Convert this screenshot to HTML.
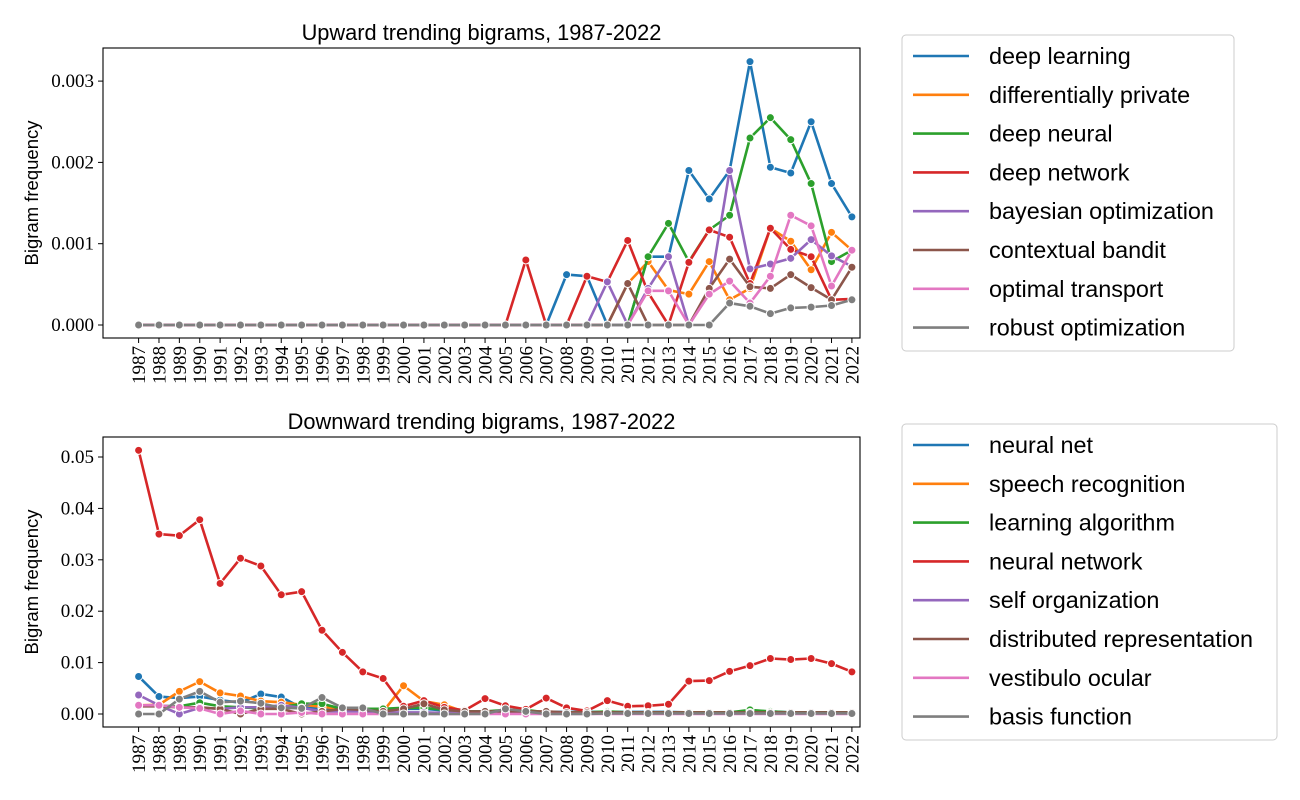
<!DOCTYPE html>
<html><head><meta charset="utf-8">
<style>
body{margin:0;background:#fff;width:1300px;height:800px;overflow:hidden}
svg{display:block}
.tick{font-family:"Liberation Serif",serif;font-size:19px;fill:#000}
.lab{font-family:"Liberation Sans",sans-serif;fill:#000}
</style></head><body>
<svg id="c" width="1300" height="800"></svg>
<script>
const years = []; for (let y=1987;y<=2022;y++) years.push(y);
const upNames = ["deep learning","differentially private","deep neural","deep network","bayesian optimization","contextual bandit","optimal transport","robust optimization"];
const colors = ["#1f77b4","#ff7f0e","#2ca02c","#d62728","#9467bd","#8c564b","#e377c2","#7f7f7f"];
const z19 = new Array(19).fill(0);
const upDeepLearning = [...z19,0,0,0.00062,0.00060,0,0,0.00084,0.00084,0.0019,0.00155,0.0019,0.00324,0.00194,0.00187,0.0025,0.00174,0.00133];
const upDiffPrivate = [...z19,0,0,0,0,0,0.00051,0.00078,0.00043,0.00038,0.00078,0.00031,0.00045,0.00119,0.00103,0.00068,0.00114,0.00092];
const upDeepNeural = [...z19,0,0,0,0,0,0,0.00084,0.00125,0.00078,0.00117,0.00135,0.0023,0.00255,0.00228,0.00174,0.00078,0.00092];
const upDeepNetwork = [...z19,0.0008,0,0,0.0006,0.00053,0.00104,0.0004,0,0.00077,0.00117,0.00108,0.00051,0.00119,0.00093,0.00084,0.00031,0.00032];
const upBayesOpt = [...z19,0,0,0,0,0.00053,0,0.00045,0.00084,0,0.00039,0.0019,0.00069,0.00075,0.00082,0.00105,0.00085,0.00072];
const upBandit = [...z19,0,0,0,0,0,0.00051,0,0,0,0.00045,0.00081,0.00047,0.00045,0.00062,0.00046,0.00031,0.00071];
const upTransport = [...z19,0,0,0,0,0,0,0.00042,0.00042,0,0.00038,0.00054,0.00027,0.0006,0.00135,0.00122,0.00048,0.00092];
const upRobust = [...z19,0,0,0,0,0,0,0,0,0,0,0.00027,0.00023,0.00014,0.00021,0.00022,0.00024,0.00031];
const upSeries = [upDeepLearning,upDiffPrivate,upDeepNeural,upDeepNetwork,upBayesOpt,upBandit,upTransport,upRobust];

const downNames = ["neural net","speech recognition","learning algorithm","neural network","self organization","distributed representation","vestibulo ocular","basis function"];
const dnNeuralNet = [0.0073,0.0034,0.0031,0.0034,0.0027,0.0022,0.0039,0.0033,0.0012,0.0011,0.0010,0.0010,0.0009,0.0010,0.0010,0.0007,0.0005,0.0005,0.0005,0.0005,0.0004,0.0004,0.0004,0.0004,0.0004,0.0004,0.0004,0.0003,0.0003,0.0003,0.0003,0.0005,0.0003,0.0003,0.0003,0.0003];
const dnSpeech = [0.0017,0.0018,0.0044,0.0063,0.0041,0.0035,0.0025,0.0023,0.0018,0.0014,0.0010,0.0008,0.0005,0.0055,0.0025,0.0018,0.0004,0.0003,0.0003,0.0003,0.0003,0.0003,0.0003,0.0003,0.0003,0.0003,0.0003,0.0003,0.0003,0.0003,0.0002,0.0002,0.0002,0.0002,0.0002,0.0002];
const dnLearnAlg = [0.0015,0.0016,0.0015,0.0022,0.0015,0.0013,0.0011,0.0013,0.0020,0.0020,0.0010,0.0010,0.0010,0.0012,0.0012,0.0008,0.0005,0.0005,0.0008,0.0008,0.0003,0.0003,0.0003,0.0005,0.0003,0.0003,0.0003,0.0003,0.0003,0.0003,0.0008,0.0005,0.0003,0.0003,0.0003,0.0003];
const dnNeuralNetwork = [0.0513,0.0350,0.0347,0.0378,0.0254,0.0303,0.0288,0.0232,0.0238,0.0163,0.0120,0.0082,0.0069,0.0015,0.0026,0.0013,0.0007,0.0030,0.0016,0.0009,0.0031,0.0012,0.0006,0.0026,0.0015,0.0016,0.0019,0.0064,0.0065,0.0083,0.0094,0.0108,0.0106,0.0108,0.0098,0.0082];
const dnSelfOrg = [0.0037,0.0017,0.0000,0.0012,0.0010,0.0013,0.0013,0.0017,0.0012,0.0005,0.0005,0.0005,0.0003,0.0003,0.0003,0.0002,0.0002,0.0002,0.0002,0.0002,0.0002,0.0002,0.0002,0.0002,0.0002,0.0002,0.0002,0.0002,0.0002,0.0002,0.0002,0.0002,0.0002,0.0002,0.0002,0.0002];
const dnDistRep = [0.0015,0.0015,0.0013,0.0013,0.0010,0.0000,0.0010,0.0010,0.0000,0.0005,0.0010,0.0008,0.0005,0.0010,0.0020,0.0008,0.0005,0.0005,0.0005,0.0005,0.0005,0.0003,0.0003,0.0003,0.0003,0.0003,0.0003,0.0003,0.0003,0.0003,0.0003,0.0003,0.0003,0.0003,0.0003,0.0003];
const dnVestibulo = [0.0017,0.0017,0.0013,0.0011,0.0000,0.0006,0.0000,0.0000,0.0003,0,0,0,0,0,0,0,0,0,0,0,0,0,0,0,0,0,0,0,0,0,0,0,0,0,0,0];
const dnBasis = [0,0,0.0029,0.0044,0.0023,0.0025,0.0021,0.0012,0.0011,0.0032,0.0012,0.0012,0,0,0,0,0,0,0.0010,0.0005,0,0,0,0.0001,0.0001,0.0001,0.0001,0.0001,0.0001,0.0001,0.0001,0.0001,0.0001,0.0001,0.0001,0.0001];
const downSeries = [dnNeuralNet,dnSpeech,dnLearnAlg,dnNeuralNetwork,dnSelfOrg,dnDistRep,dnVestibulo,dnBasis];

const upTicks = [0,0.001,0.002,0.003], upTickLabels = ["0.000","0.001","0.002","0.003"];
const dnTicks = [0,0.01,0.02,0.03,0.04,0.05], dnTickLabels = ["0.00","0.01","0.02","0.03","0.04","0.05"];

const NS="http://www.w3.org/2000/svg";
const svg=document.getElementById('c');
function mk(tag,attrs,parent){const e=document.createElementNS(NS,tag);for(const k in attrs)e.setAttribute(k,attrs[k]);(parent||svg).appendChild(e);return e;}

function panel(cfg){
  const g=mk('g',{});
  
  
  const L=103,R=860,T=cfg.top,B=cfg.top+290;
  const x=i=>138.6+i*(851.9-138.6)/35;
  const y=v=>cfg.y0+(v*cfg.scale);
  const t=mk('text',{x:(L+R)/2,y:T-8,'text-anchor':'middle','font-size':21.8,class:'lab'},g);
  t.textContent=cfg.title;
  
  
  cfg.series.forEach((s,k)=>{
    const sg=mk('g',{},g);
    
    
    mk('polyline',{points:s.map((v,i)=>x(i)+','+y(v)).join(' '),fill:'none',stroke:colors[k],'stroke-width':2.6,'stroke-linejoin':'round'},sg);
    s.forEach((v,i)=>{const c=mk('circle',{cx:x(i),cy:y(v),r:4,fill:colors[k],stroke:'#fff','stroke-width':1},sg);
      
      });
  });
  const fr=mk('rect',{x:L,y:T,width:R-L,height:B-T,fill:'none',stroke:'#000','stroke-width':1.1},g);
  
  
  cfg.ticks.forEach((v,i)=>{
    mk('line',{x1:L-5,x2:L,y1:y(v),y2:y(v),stroke:'#000'},g);
    const tl=mk('text',{x:L-9,y:y(v)+6,'text-anchor':'end',class:'tick'},g);
    tl.textContent=cfg.tickLabels[i];
    
    
  });
  const yl=mk('text',{x:0,y:0,transform:`translate(38,${(T+B)/2}) rotate(-90)`,'text-anchor':'middle','font-size':18.5,class:'lab'},g);
  yl.textContent='Bigram frequency';
  
  
  years.forEach((yr,i)=>{
    mk('line',{x1:x(i),x2:x(i),y1:B,y2:B+5,stroke:'#000'},g);
    const xl=mk('text',{x:0,y:0,transform:`translate(${x(i)+6.5},${B+8}) rotate(-90)`,'text-anchor':'end',class:'tick'},g);
    xl.textContent=yr;
    
    
  });
  const lg=mk('g',{},g);
  
  
  mk('rect',{x:902,y:cfg.legTop,width:cfg.legW,height:316,rx:4,fill:'#fff',stroke:'#ccc','stroke-width':1},lg);
  cfg.names.forEach((n,k)=>{
    const cy=cfg.legTop+21+k*38.8;
    const e=mk('g',{},lg);
    
    
    mk('line',{x1:913,x2:969,y1:cy,y2:cy,stroke:colors[k],'stroke-width':2.6},e);
    const tx=mk('text',{x:989,y:cy+8,'font-size':23.4,class:'lab'},e);
    tx.textContent=n;
  });
}
panel({id:'upward',title:'Upward trending bigrams, 1987-2022',top:48,y0:325,scale:-81300,series:upSeries,names:upNames,ticks:upTicks,tickLabels:upTickLabels,legTop:35,legW:332});
panel({id:'downward',title:'Downward trending bigrams, 1987-2022',top:437,y0:714,scale:-5140,series:downSeries,names:downNames,ticks:dnTicks,tickLabels:dnTickLabels,legTop:424,legW:375});
</script>
</body></html>
